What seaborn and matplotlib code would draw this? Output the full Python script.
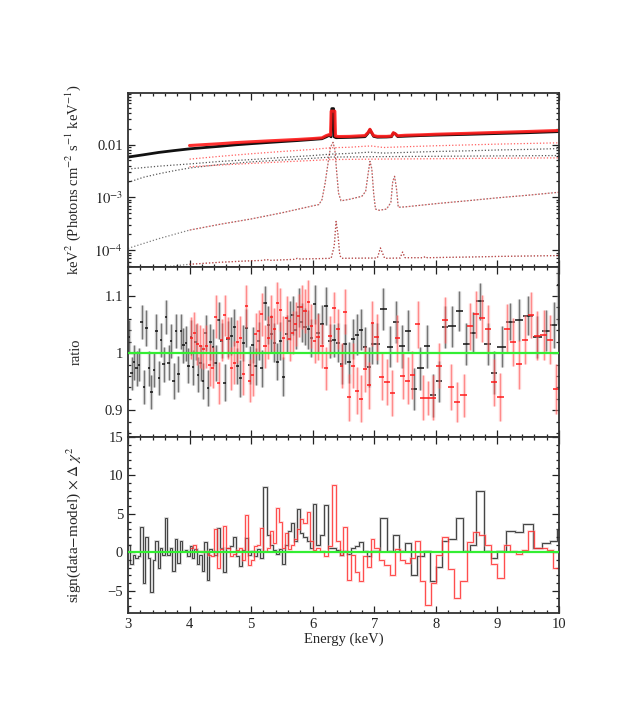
import numpy as np
import pandas as pd
import seaborn as sns
import matplotlib
matplotlib.use("Agg")
import matplotlib.pyplot as plt
from matplotlib.ticker import MultipleLocator, FixedLocator, FixedFormatter, LogLocator, NullFormatter

# ---------------- data ----------------
# unfolded spectra (top panel)
black_flux_e = [3.0, 3.25, 3.5, 3.75, 4.0, 4.25, 4.5, 4.75, 5.0, 5.25, 5.5, 5.75, 6.0, 6.15, 6.22, 6.27,
                6.30, 6.31, 6.34, 6.35, 6.38, 6.5, 6.7, 6.85, 6.9, 6.93, 6.96, 6.99, 7.05, 7.2, 7.28,
                7.31, 7.34, 7.38, 7.5, 7.75, 8.0, 8.5, 9.0, 9.5, 10.0]
black_flux = [0.0058, 0.0064, 0.0071, 0.0077, 0.0083, 0.0088, 0.0093, 0.0099, 0.0104, 0.0109, 0.0114,
              0.0119, 0.0125, 0.0129, 0.0140, 0.0150, 0.0140, 0.0480, 0.0480, 0.0140, 0.0135, 0.0136,
              0.0138, 0.0141, 0.0165, 0.0192, 0.0165, 0.0143, 0.0138, 0.0139, 0.0141, 0.0165, 0.0160,
              0.0142, 0.0144, 0.0148, 0.0151, 0.0156, 0.0162, 0.0168, 0.0176]
red_flux_e = [4.0, 4.25, 4.5, 4.75, 5.0, 5.25, 5.5, 5.75, 6.0, 6.15, 6.22, 6.27, 6.29, 6.30, 6.36, 6.37,
              6.42, 6.6, 6.85, 6.9, 6.93, 6.96, 6.99, 7.05, 7.2, 7.28, 7.31, 7.34, 7.38, 7.5, 7.75,
              8.0, 8.5, 9.0, 9.5, 10.0]
red_flux = [0.0096, 0.0100, 0.0104, 0.0109, 0.0113, 0.0117, 0.0121, 0.0125, 0.0130, 0.0134, 0.0148,
            0.0155, 0.0150, 0.0430, 0.0430, 0.0145, 0.0142, 0.0143, 0.0148, 0.0170, 0.0195, 0.0168,
            0.0148, 0.0143, 0.0143, 0.0145, 0.0168, 0.0160, 0.0147, 0.0150, 0.0153, 0.0157, 0.0163,
            0.0170, 0.0177, 0.0185]

# model components (top panel, dotted)
b_up_e = [3.0, 3.5, 4.0, 4.5, 5.0, 5.5, 6.0, 6.3, 6.6, 6.85, 6.93, 7.0, 7.15, 7.5, 8.0, 8.5, 9.0, 9.5, 10.0]
b_up_f = [0.00344, 0.0039, 0.0043, 0.0048, 0.0052, 0.0057, 0.0062, 0.0066, 0.0068, 0.0071, 0.0072,
          0.0071, 0.0069, 0.0071, 0.0074, 0.0076, 0.0079, 0.0081, 0.0084]
b_lo_e = [3.0, 3.25, 3.5, 3.75, 4.0, 4.5, 5.0, 5.5, 6.0, 6.3, 7.0, 8.0, 9.0, 10.0]
b_lo_f = [0.00192, 0.0024, 0.0028, 0.0032, 0.0036, 0.0042, 0.0047, 0.0051, 0.0055, 0.0058, 0.0059,
          0.0060, 0.0061, 0.0062]
r_up_e = [4.0, 4.5, 5.0, 5.5, 6.0, 6.3, 6.6, 6.85, 6.95, 7.05, 7.15, 7.5, 8.0, 9.0, 10.0]
r_up_f = [0.0053, 0.0060, 0.0067, 0.0074, 0.0081, 0.0087, 0.0089, 0.0093, 0.0094, 0.0091, 0.0088,
          0.0091, 0.0095, 0.0102, 0.0108]
r_lo_e = [4.0, 4.5, 5.0, 5.5, 6.0, 6.3, 7.0, 8.0, 9.0, 10.0]
r_lo_f = [0.0038, 0.0041, 0.0044, 0.0047, 0.0050, 0.0052, 0.0053, 0.0054, 0.0055, 0.0056]

refl_e = [3.0, 3.5, 4.0, 4.5, 5.0, 5.5, 6.0, 6.1, 6.15, 6.2, 6.25, 6.29, 6.33, 6.36, 6.39, 6.42, 6.46,
          6.6, 6.8, 6.86, 6.9, 6.93, 6.96, 6.99, 7.02, 7.08, 7.2, 7.27, 7.30, 7.33, 7.36, 7.39, 7.5,
          8.0, 8.5, 9.0, 9.5, 10.0]
refl_f = [1.08e-4, 1.65e-4, 2.4e-4, 3.1e-4, 3.9e-4, 5.1e-4, 6.9e-4, 7.3e-4, 9.0e-4, 1.8e-3, 4.5e-3,
          9.0e-3, 1.1e-2, 8.0e-3, 3.0e-3, 1.2e-3, 8.6e-4, 9.2e-4, 1.05e-3, 1.3e-3, 2.8e-3, 4.8e-3,
          3.5e-3, 1.2e-3, 6.0e-4, 5.7e-4, 6.0e-4, 8.0e-4, 2.0e-3, 2.5e-3, 1.5e-3, 6.5e-4, 6.6e-4,
          7.6e-4, 8.6e-4, 9.8e-4, 1.1e-3, 1.25e-3]

low_e = [3.0, 3.5, 4.0, 4.5, 5.0, 5.2, 5.25, 5.3, 5.7, 5.75, 5.8, 6.3, 6.35, 6.38, 6.41, 6.44, 6.47,
         7.05, 7.10, 7.13, 7.17, 7.42, 7.46, 7.50, 7.8, 7.83, 7.86, 8.5, 9.0, 10.0]
low_f = [4.2e-5, 4.7e-5, 5.4e-5, 5.9e-5, 6.3e-5, 6.4e-5, 6.7e-5, 6.4e-5, 6.7e-5, 7.0e-5, 6.8e-5,
         7.0e-5, 1.2e-4, 3.5e-4, 2.0e-4, 8.0e-5, 7.0e-5, 7.1e-5, 1.1e-4, 9.0e-5, 7.0e-5, 7.1e-5,
         9.2e-5, 7.2e-5, 7.2e-5, 7.6e-5, 7.2e-5, 7.4e-5, 7.6e-5, 7.9e-5]

# binned residuals: bin edges, sign(data-model)*dchi2, ratio errors
black_edges = [3.00, 3.04, 3.08, 3.12, 3.16, 3.20, 3.24, 3.28, 3.32, 3.36, 3.40, 3.44, 3.48, 3.52, 3.56,
               3.60, 3.64, 3.68, 3.72, 3.76, 3.80, 3.84, 3.88, 3.92, 3.96, 4.00, 4.04, 4.08, 4.12, 4.16,
               4.20, 4.24, 4.28, 4.32, 4.36, 4.40,
               4.45, 4.50, 4.55, 4.60, 4.65, 4.70, 4.75, 4.80, 4.85, 4.90, 4.95, 5.00, 5.05, 5.10, 5.15,
               5.20, 5.25, 5.30, 5.35, 5.40, 5.45, 5.50, 5.55, 5.60, 5.65, 5.70, 5.75, 5.80, 5.85, 5.90,
               5.95, 6.00,
               6.06, 6.12, 6.19, 6.25, 6.31, 6.38, 6.44, 6.50, 6.56, 6.62, 6.69, 6.75, 6.81, 6.88, 6.94, 7.00,
               7.10, 7.20, 7.30, 7.40, 7.50, 7.60, 7.70, 7.80, 7.90, 8.00,
               8.10, 8.20, 8.32, 8.44, 8.55, 8.66, 8.78, 8.90, 9.00, 9.14, 9.28, 9.42, 9.58, 9.72, 9.86,
               9.97, 10.00]
black_dchi = [1.0, -1.5, -0.3, -0.8, -0.5, 3.3, -4.0, 2.0, -0.8, -5.2, -1.0, 1.5, -2.1, 0.6, -0.4, 4.4,
              -0.3, 0.5, -2.5, 1.7, -1.4, 1.5, 0.2, 0.3, -0.5, 0.8, -0.7, 0.4, -1.5, -0.3, -2.5, 1.3,
              -3.6, 0.4, 0.1,
              -0.3, 3.2, 0.5, -2.6, 0.6, 0.8, 2.0, -0.5, -1.8, 0.3, 1.8, -0.4, 0.2, -0.5, 0.4, -0.7,
              8.5, 2.2, 1.0, 0.3, -0.2, 0.4, -1.5, 1.0, 2.8, 3.8, 1.5, 5.6, 2.5, 2.0, 1.5, 0.6,
              6.3, 1.0, 2.2, 6.2, 0.5, 0.6, 0.3, -0.3, 0.2, -0.2, 0.5, 0.8, 1.3, 0.1, -0.5, 0.2,
              0.2, 4.4, 0.1, 2.2, 0.1, 1.2, -2.9, -0.5, 0.1, -3.8,
              -1.9, 1.5, 1.7, 4.4, 0.2, 1.0, 8.0, 0.2, -0.8, 0.1, 2.8, 2.6, 3.7, 0.6, 1.2, 1.5, 2.9]
black_err = [0.029, 0.029, 0.030, 0.030, 0.029, 0.030, 0.030, 0.031, 0.030, 0.030, 0.030, 0.031, 0.030,
             0.030, 0.031, 0.030, 0.031, 0.030, 0.031, 0.030, 0.031, 0.031, 0.030, 0.031, 0.031, 0.031,
             0.030, 0.031, 0.031, 0.032, 0.031, 0.031, 0.032, 0.031, 0.032,
             0.032, 0.032, 0.031, 0.032, 0.032, 0.033, 0.032, 0.032, 0.033, 0.032, 0.033, 0.033, 0.032,
             0.033, 0.033, 0.032, 0.030, 0.033, 0.033, 0.034, 0.033, 0.033, 0.034, 0.033, 0.034, 0.034,
             0.033, 0.034, 0.034, 0.033, 0.034, 0.034,
             0.034, 0.035, 0.034, 0.033, 0.030, 0.029, 0.034, 0.035, 0.035, 0.036, 0.035, 0.036, 0.036,
             0.035, 0.035, 0.036,
             0.036, 0.037, 0.036, 0.037, 0.037, 0.036, 0.037, 0.038, 0.037, 0.038,
             0.036, 0.037, 0.036, 0.035, 0.037, 0.036, 0.032, 0.037, 0.038, 0.036, 0.033, 0.036, 0.034,
             0.037, 0.036, 0.040, 0.070]

red_edges = [4.00, 4.05, 4.10, 4.15, 4.20, 4.25, 4.30, 4.35, 4.40, 4.45, 4.50, 4.55, 4.60, 4.65, 4.70,
             4.75, 4.80, 4.85, 4.90, 4.95, 5.00, 5.05, 5.10, 5.15, 5.20, 5.25, 5.30, 5.35, 5.40, 5.45,
             5.50, 5.55, 5.60, 5.65, 5.70, 5.75, 5.80, 5.85, 5.90, 5.95, 6.00,
             6.06, 6.12, 6.19, 6.25, 6.31, 6.38, 6.44, 6.50, 6.56, 6.62, 6.69, 6.75, 6.81, 6.88, 6.94, 7.00,
             7.08, 7.16, 7.25, 7.33, 7.42, 7.50, 7.58, 7.66, 7.75, 7.83, 7.92, 8.00,
             8.10, 8.20, 8.30, 8.40, 8.50, 8.60, 8.70, 8.80, 8.90, 9.00, 9.10, 9.20, 9.30, 9.40, 9.50,
             9.60, 9.70, 9.80, 9.90, 10.00]
red_dchi = [0.5, 1.0, 0.2, 0.1, 0.05, 0.1, -0.3, -0.5, 3.0, -2.0, 0.4, 3.4, 0.5, -0.5, -0.2, 0.3, 0.5,
            -1.0, 4.9, -1.6, -1.0, 0.8, 1.0, 3.2, 0.1, 0.5, 2.8, 1.2, 5.7, 4.0, 0.5, 2.5, 0.4, 0.9,
            1.7, 3.0, 4.3, 3.8, 5.2, 1.5,
            0.3, 0.5, 0.1, -0.5, 0.8, 8.7, 1.5, -0.3, 3.3, -3.6, -0.3, -2.6, -3.8, -0.5, -1.9, 1.7,
            0.5, -1.0, -1.6, -2.9, 0.4, -1.0, -1.4, -0.8, 1.5, -3.8, -6.8, -4.0,
            -0.3, 2.0, -2.2, -6.0, -3.8, 1.3, 2.6, 2.2, 1.0, -1.5, -3.3, 1.0, 0.2, -0.2, 0.3, 2.8,
            0.5, 0.5, 0.3, -2.0]
red_err = [0.037, 0.036, 0.037, 0.037, 0.036, 0.037, 0.037, 0.036, 0.037, 0.037, 0.037, 0.036, 0.037,
           0.038, 0.037, 0.037, 0.038, 0.037, 0.037, 0.038, 0.038, 0.037, 0.038, 0.038, 0.037, 0.038,
           0.038, 0.038, 0.037, 0.038, 0.038, 0.039, 0.038, 0.038, 0.039, 0.038, 0.039, 0.038, 0.039,
           0.039,
           0.039, 0.040, 0.039, 0.038, 0.034, 0.027, 0.035, 0.040, 0.040, 0.041, 0.040, 0.041, 0.041,
           0.040, 0.041, 0.040,
           0.040, 0.041, 0.040, 0.041, 0.041, 0.040, 0.041, 0.042, 0.041, 0.040, 0.030, 0.039,
           0.040, 0.041, 0.040, 0.035, 0.038, 0.041, 0.042, 0.041, 0.042, 0.042, 0.042, 0.043, 0.042,
           0.043, 0.043, 0.040, 0.043, 0.044, 0.043, 0.044]

# ---------------- style ----------------
sns.set_theme(style="ticks")
plt.rcParams["font.family"] = ["Liberation Serif", "DejaVu Serif"]
plt.rcParams["mathtext.fontset"] = "stix"

fig = plt.figure(figsize=(6.27, 7.08), dpi=100)
L, W = 0.2041, 0.6874
ax1 = fig.add_axes([L, 0.6229, W, 0.2458])
ax2 = fig.add_axes([L, 0.3828, W, 0.2401], sharex=ax1)
ax3 = fig.add_axes([L, 0.1342, W, 0.2486], sharex=ax1)

BLACK = "#111111"
RED = "#ff1a1a"
DOT = (0, (1.0, 1.6))

# ---------------- top panel ----------------
ax1.set_yscale("log")
comps = [(b_up_e, b_up_f, BLACK), (b_lo_e, b_lo_f, BLACK), (r_up_e, r_up_f, RED), (r_lo_e, r_lo_f, RED)]
for e, f, c in comps:
    sns.lineplot(x=e, y=f, ax=ax1, color=c, lw=0.9, ls=DOT, alpha=0.7, estimator=None, sort=False)
re_ = np.array(refl_e); rf_ = np.array(refl_f)
le_ = np.array(low_e); lf_ = np.array(low_f)
sns.lineplot(x=re_, y=rf_, ax=ax1, color=BLACK, lw=0.9, ls=DOT, alpha=0.55, estimator=None, sort=False)
sns.lineplot(x=re_[re_ >= 4], y=rf_[re_ >= 4], ax=ax1, color=RED, lw=0.9, ls=DOT, alpha=0.55,
             estimator=None, sort=False)
sns.lineplot(x=le_, y=lf_, ax=ax1, color=BLACK, lw=0.9, ls=DOT, alpha=0.55, estimator=None, sort=False)
sns.lineplot(x=le_[le_ >= 4], y=lf_[le_ >= 4], ax=ax1, color=RED, lw=0.9, ls=DOT, alpha=0.55,
             estimator=None, sort=False)
sns.lineplot(x=black_flux_e, y=black_flux, ax=ax1, color=BLACK, lw=2.0, estimator=None, sort=False)
sns.lineplot(x=red_flux_e, y=red_flux, ax=ax1, color=RED, lw=2.2, alpha=0.9, estimator=None, sort=False)

ax1.set_ylim(4.8e-5, 0.095)
ax1.yaxis.set_major_locator(FixedLocator([1e-4, 1e-3, 1e-2]))
ax1.yaxis.set_major_formatter(FixedFormatter([r"$10^{-4}$", r"$10^{-3}$", "0.01"]))
ax1.yaxis.set_minor_locator(LogLocator(base=10, subs=np.arange(2, 10)))
ax1.yaxis.set_minor_formatter(NullFormatter())
ax1.set_ylabel(r"keV$^{2}$ (Photons cm$^{-2}$ s$^{-1}$ keV$^{-1}$)", fontsize=10.5)


# ---------------- ratio & residual panels ----------------
def draw_series(edges, dchi, err, color, light, a_light, a_thin):
    edges = np.asarray(edges); dchi = np.asarray(dchi); err = np.asarray(err)
    lo, hi = edges[:-1], edges[1:]
    cen = 0.5 * (lo + hi); hw = 0.5 * (hi - lo)
    ratio = 1 + np.sign(dchi) * np.sqrt(np.abs(dchi)) * err
    ax2.errorbar(cen, ratio, yerr=err, fmt="none", ecolor=light, elinewidth=2.4, capsize=0, alpha=a_light)
    ax2.errorbar(cen, ratio, yerr=err, fmt="none", ecolor=color, elinewidth=0.6, capsize=0, alpha=a_thin)
    ax2.errorbar(cen, ratio, xerr=hw, fmt="none", ecolor=color, elinewidth=1.1, capsize=0)
    ax3.stairs(dchi, edges, baseline=None, color=light, lw=1.8, alpha=a_light)
    ax3.stairs(dchi, edges, baseline=None, color=color, lw=0.6, alpha=0.85)


draw_series(black_edges, black_dchi, black_err, BLACK, "#8a8a8a", 0.45, 0.55)
draw_series(red_edges, red_dchi, red_err, RED, "#ff9a9a", 0.45, 0.45)

ax2.axhline(1.0, color="#33ee33", lw=1.6, zorder=5)
ax3.axhline(0.0, color="#33ee33", lw=1.6, zorder=5)

ax2.set_ylim(0.853, 1.151)
ax2.yaxis.set_major_locator(FixedLocator([0.9, 1.0, 1.1]))
ax2.yaxis.set_major_formatter(FixedFormatter(["0.9", "1", "1.1"]))
ax2.yaxis.set_minor_locator(MultipleLocator(0.02))
ax2.set_ylabel("ratio", fontsize=10.5)

ax3.set_ylim(-7.9, 15)
ax3.yaxis.set_major_locator(FixedLocator([-5, 0, 5, 10, 15]))
ax3.yaxis.set_major_formatter(FixedFormatter(["\u22125", "0", "5", "10", "15"]))
ax3.yaxis.set_minor_locator(MultipleLocator(1))
ax3.set_ylabel(r"sign(data$-$model) $\times$ $\Delta$ $\chi^{2}$", fontsize=11)
ax3.set_xlabel("Energy (keV)", fontsize=10.5, labelpad=1)

for ax in (ax1, ax2, ax3):
    ax.set_xlim(3, 10)
    ax.xaxis.set_minor_locator(MultipleLocator(0.2))
    ax.tick_params(which="both", direction="in", top=True, right=True, colors="#222222",
                   labelsize=10.5, width=0.9)
    ax.tick_params(which="major", length=5)
    ax.tick_params(which="minor", length=2.5)
    for s in ax.spines.values():
        s.set_color("#333333")
        s.set_linewidth(1.3)
    ax.yaxis.set_label_coords(-0.105, 0.5)
    ax.set_facecolor("white")

ax1.tick_params(labelbottom=False)
ax2.tick_params(labelbottom=False)
ax3.xaxis.set_major_locator(FixedLocator([3, 4, 5, 6, 7, 8, 9, 10]))
ax3.xaxis.set_major_formatter(FixedFormatter(["3", "4", "5", "6", "7", "8", "9", "10"]))

fig.savefig("out.png", dpi=100, facecolor="white")
